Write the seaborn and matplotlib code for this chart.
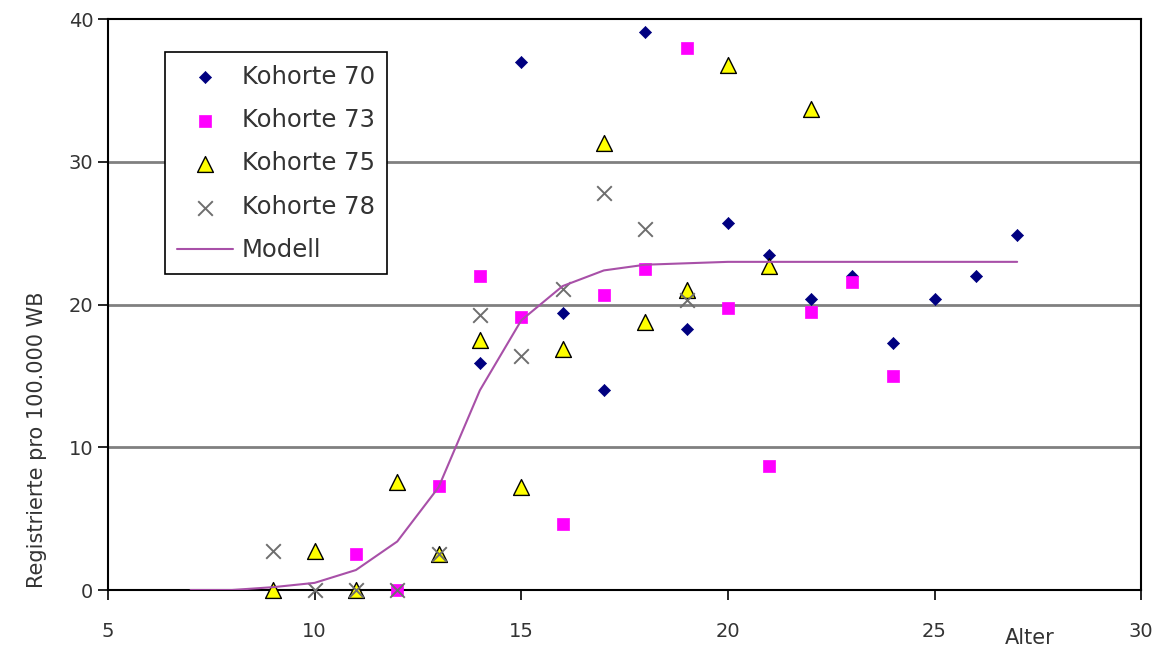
import pandas as pd
import matplotlib.pyplot as plt
import seaborn as sns

# Alter (x) und registrierte Fälle pro 100.000 WB (y)
alter_70 = [14, 15, 16, 17, 18, 19, 20, 21, 22, 23, 24, 25, 26, 27]
werte_70 = [15.9, 37.0, 19.4, 14.0, 39.1, 18.3, 25.7, 23.5, 20.4, 22.0, 17.3, 20.4, 22.0, 24.9]

alter_73 = [11, 12, 13, 14, 15, 16, 17, 18, 19, 20, 21, 22, 23, 24]
werte_73 = [2.5, 0.0, 7.3, 22.0, 19.1, 4.6, 20.7, 22.5, 38.0, 19.8, 8.7, 19.5, 21.6, 15.0]

alter_75 = [9, 10, 11, 12, 13, 14, 15, 16, 17, 18, 19, 20, 21, 22]
werte_75 = [0.0, 2.7, 0.0, 7.6, 2.5, 17.5, 7.2, 16.9, 31.3, 18.8, 21.0, 36.8, 22.7, 33.7]

alter_78 = [9, 10, 11, 12, 13, 14, 15, 16, 17, 18, 19]
werte_78 = [2.7, 0.0, 0.0, 0.0, 2.5, 19.3, 16.4, 21.1, 27.8, 25.3, 20.3]

alter_modell = [7, 8, 9, 10, 11, 12, 13, 14, 15, 16, 17, 18, 19, 20, 21, 22, 23, 24, 25, 26, 27]
werte_modell = [0.0, 0.0, 0.2, 0.5, 1.4, 3.4, 7.2, 14.0, 18.9, 21.3, 22.4, 22.8, 22.9,
                23.0, 23.0, 23.0, 23.0, 23.0, 23.0, 23.0, 23.0]

sns.set_style("white")
plt.rcParams['font.family'] = ['DejaVu Sans']

fig = plt.figure(figsize=(11.57, 6.5), dpi=100)
ax = fig.add_axes([0.0933, 0.0923, 0.893, 0.878])

sns.scatterplot(x=alter_70, y=werte_70, ax=ax, marker='D', s=38, color='#000080',
                edgecolor='#000080', linewidth=0.5, label='Kohorte 70', zorder=3, clip_on=False)
sns.scatterplot(x=alter_73, y=werte_73, ax=ax, marker='s', s=70, color='#FF00FF',
                edgecolor='#FF00FF', linewidth=0.5, label='Kohorte 73', zorder=4, clip_on=False)
sns.scatterplot(x=alter_75, y=werte_75, ax=ax, marker='^', s=130, color='#FFFF00',
                edgecolor='black', linewidth=1.0, label='Kohorte 75', zorder=5, clip_on=False)
sns.scatterplot(x=alter_78, y=werte_78, ax=ax, marker='x', s=110, color='#6E6E6E',
                linewidth=1.4, label='Kohorte 78', zorder=6, clip_on=False)
sns.lineplot(x=alter_modell, y=werte_modell, ax=ax, color='#A850A8', linewidth=1.5,
             label='Modell', zorder=7)

ax.set_xlim(5, 30)
ax.set_ylim(0, 40)
ax.set_xticks([5, 10, 15, 20, 25, 30])
ax.set_yticks([0, 10, 20, 30, 40])
ax.tick_params(axis='both', direction='out', length=7, width=1.2, colors='black',
               labelsize=14, labelcolor='#333333', left=True, bottom=True)
ax.tick_params(axis='x', pad=16)
for y in [10, 20, 30]:
    ax.axhline(y, color='#808080', linewidth=2, zorder=1)
for sp in ax.spines.values():
    sp.set_color('black')
    sp.set_linewidth(1.5)

ax.set_ylabel('Registrierte pro 100.000 WB', fontsize=15, color='#333333', y=0.263, labelpad=16)
ax.set_xlabel('')
fig.text(1030 / 1157, 1 - 638 / 650, 'Alter', ha='center', va='center', fontsize=15, color='#333333')

leg = ax.legend(loc='upper left', bbox_to_anchor=(0.0552, 0.942), borderaxespad=0, fontsize=17.5,
                frameon=True, fancybox=False, framealpha=1, edgecolor='black',
                borderpad=0.5, labelspacing=0.8, handlelength=2.3, handletextpad=0.35)
leg.get_frame().set_linewidth(1.2)
for t in leg.get_texts():
    t.set_color('#333333')

fig.savefig('out.png', dpi=100)
